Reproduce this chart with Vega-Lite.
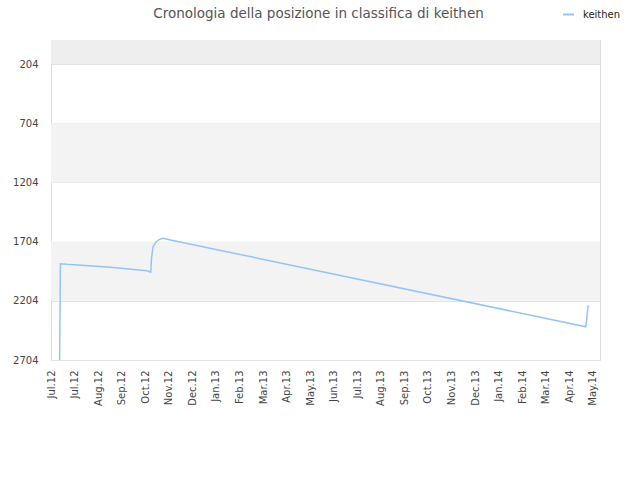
{
  "$schema": "https://vega.github.io/schema/vega-lite/v6.json",
  "width": 549,
  "height": 320,
  "autosize": {"type": "none"},
  "padding": {"left": 51, "top": 40, "right": 40, "bottom": 120},
  "background": "#ffffff",
  "title": {
    "text": "Cronologia della posizione in classifica di keithen",
    "anchor": "middle",
    "frame": "group",
    "dx": -7,
    "offset": -23,
    "baseline": "alphabetic",
    "font": "DejaVu Sans",
    "fontSize": 13.5,
    "fontWeight": "normal",
    "color": "#555555"
  },
  "layer": [
    {
      "data": {"values": [{"lo": 1, "hi": 204}]},
      "mark": {"type": "rect", "color": "#eeeeee"},
      "encoding": {
        "y": {
          "field": "lo",
          "type": "quantitative",
          "scale": {"domain": [1, 2704], "reverse": true, "nice": false, "zero": false},
          "axis": {"title": null}
        },
        "y2": {"field": "hi"}
      }
    },
    {
      "data": {"values": [{"lo": 704, "hi": 1204}, {"lo": 1704, "hi": 2204}]},
      "mark": {"type": "rect", "color": "#f3f3f3"},
      "encoding": {
        "y": {
          "field": "lo",
          "type": "quantitative",
          "scale": {"domain": [1, 2704], "reverse": true, "nice": false, "zero": false},
          "axis": {"title": null}
        },
        "y2": {"field": "hi"}
      }
    },
    {
      "data": {
        "values": [
          {"date": "2012-07-12", "rank": 2704, "name": "keithen"},
          {"date": "2012-07-13", "rank": 1891, "name": "keithen"},
          {"date": "2012-07-21", "rank": 1896, "name": "keithen"},
          {"date": "2012-09-15", "rank": 1921, "name": "keithen"},
          {"date": "2012-10-31", "rank": 1950, "name": "keithen"},
          {"date": "2012-11-05", "rank": 1962, "name": "keithen"},
          {"date": "2012-11-06", "rank": 1843, "name": "keithen"},
          {"date": "2012-11-08", "rank": 1747, "name": "keithen"},
          {"date": "2012-11-12", "rank": 1705, "name": "keithen"},
          {"date": "2012-11-16", "rank": 1685, "name": "keithen"},
          {"date": "2012-11-21", "rank": 1676, "name": "keithen"},
          {"date": "2012-11-30", "rank": 1690, "name": "keithen"},
          {"date": "2014-05-13", "rank": 2423, "name": "keithen"},
          {"date": "2014-05-16", "rank": 2240, "name": "keithen"}
        ]
      },
      "mark": {"type": "line", "strokeWidth": 1.5, "interpolate": "linear"},
      "encoding": {
        "x": {
          "field": "date",
          "type": "temporal",
          "scale": {
            "domain": [
              {"year": 2012, "month": 7, "date": 1},
              {"year": 2014, "month": 5, "date": 31}
            ],
            "nice": false
          },
          "axis": {
            "title": null,
            "format": "%b.%y",
            "labelAngle": -90,
            "labelPadding": 10,
            "ticks": false,
            "domain": false,
            "grid": false,
            "labelOverlap": false,
            "values": [
              {"year": 2012, "month": 7, "date": 1},
              {"year": 2012, "month": 7, "date": 31},
              {"year": 2012, "month": 8, "date": 30},
              {"year": 2012, "month": 9, "date": 29},
              {"year": 2012, "month": 10, "date": 29},
              {"year": 2012, "month": 11, "date": 28},
              {"year": 2012, "month": 12, "date": 28},
              {"year": 2013, "month": 1, "date": 27},
              {"year": 2013, "month": 2, "date": 26},
              {"year": 2013, "month": 3, "date": 28},
              {"year": 2013, "month": 4, "date": 27},
              {"year": 2013, "month": 5, "date": 27},
              {"year": 2013, "month": 6, "date": 26},
              {"year": 2013, "month": 7, "date": 26},
              {"year": 2013, "month": 8, "date": 25},
              {"year": 2013, "month": 9, "date": 24},
              {"year": 2013, "month": 10, "date": 24},
              {"year": 2013, "month": 11, "date": 23},
              {"year": 2013, "month": 12, "date": 23},
              {"year": 2014, "month": 1, "date": 22},
              {"year": 2014, "month": 2, "date": 21},
              {"year": 2014, "month": 3, "date": 23},
              {"year": 2014, "month": 4, "date": 22},
              {"year": 2014, "month": 5, "date": 22}
            ]
          }
        },
        "y": {
          "field": "rank",
          "type": "quantitative",
          "scale": {"domain": [1, 2704], "reverse": true, "nice": false, "zero": false},
          "axis": {
            "title": null,
            "format": "d",
            "values": [204, 704, 1204, 1704, 2204, 2704],
            "ticks": false,
            "domain": false,
            "labelPadding": 13,
            "grid": true,
            "gridColor": "#e2e2e2",
            "labelOverlap": false
          }
        },
        "color": {
          "field": "name",
          "type": "nominal",
          "scale": {"range": ["#94c4f4"]},
          "legend": {
            "title": null,
            "orient": "none",
            "legendX": 511,
            "legendY": -32,
            "symbolType": "stroke",
            "symbolSize": 121,
            "symbolStrokeWidth": 2,
            "labelOffset": 8,
            "labelFontSize": 10,
            "labelColor": "#222222",
            "labelFont": "DejaVu Sans",
            "padding": 0
          }
        }
      }
    }
  ],
  "config": {
    "font": "DejaVu Sans",
    "view": {"stroke": "#dddddd", "strokeWidth": 1},
    "axis": {
      "labelFont": "DejaVu Sans",
      "labelFontSize": 10,
      "labelColor": "#444444"
    }
  }
}
